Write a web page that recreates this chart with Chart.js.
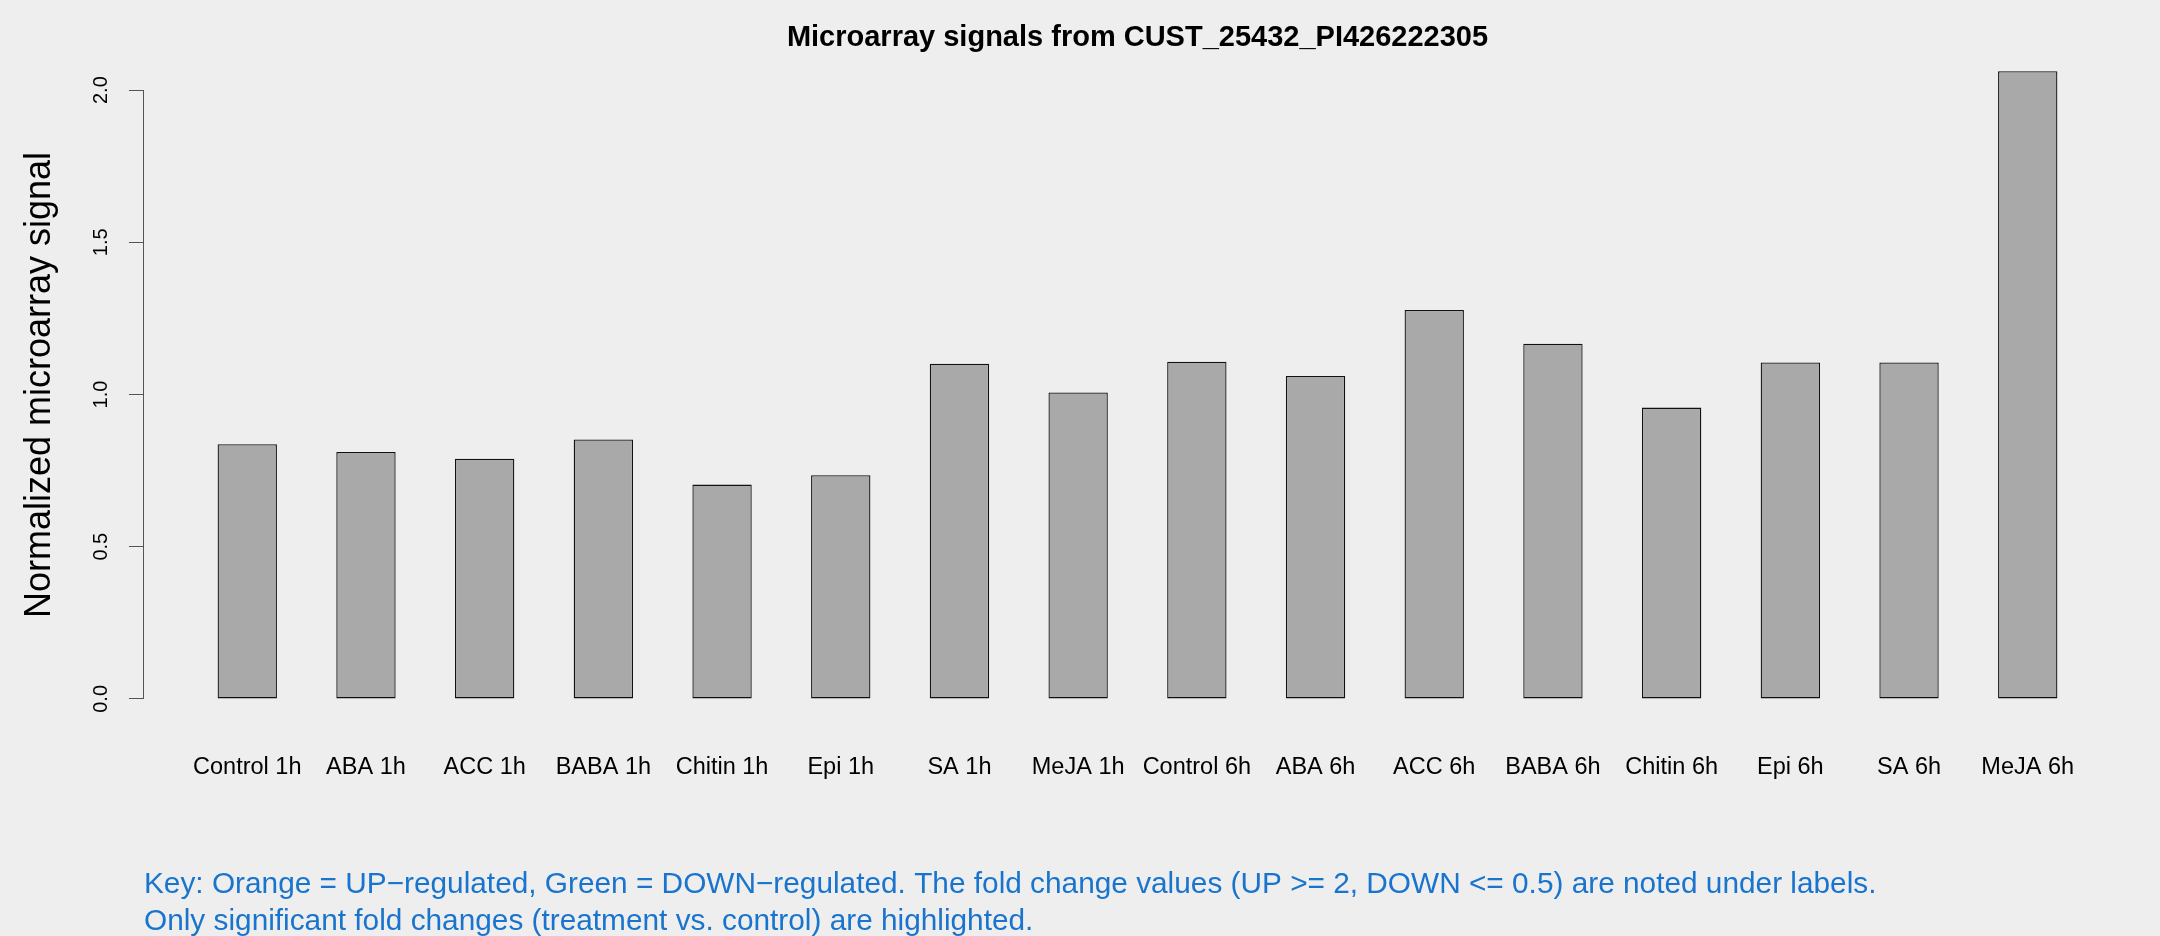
<!DOCTYPE html>
<html><head><meta charset="utf-8">
<script src="https://cdn.jsdelivr.net/npm/chart.js@4/dist/chart.umd.min.js"></script>
<style>html,body{margin:0;padding:0;background:#EEEEEE;} canvas{display:block;}</style>
</head><body>
<canvas id="c" width="2160" height="936"></canvas>
<script>
const categories = ["Control 1h","ABA 1h","ACC 1h","BABA 1h","Chitin 1h","Epi 1h","SA 1h","MeJA 1h","Control 6h","ABA 6h","ACC 6h","BABA 6h","Chitin 6h","Epi 6h","SA 6h","MeJA 6h"];
const signal = [0.837, 0.811, 0.789, 0.852, 0.704, 0.735, 1.101, 1.007, 1.108, 1.061, 1.278, 1.167, 0.957, 1.105, 1.105, 2.062];
const yTicks = [0, 0.5, 1.0, 1.5, 2.0];
const chartTitle = "Microarray signals from CUST_25432_PI426222305";
const yTitle = "Normalized microarray signal";
const keyLines = [
  "Key: Orange = UP\u2212regulated, Green = DOWN\u2212regulated. The fold change values (UP >= 2, DOWN <= 0.5) are noted under labels.",
  "Only significant fold changes (treatment vs. control) are highlighted."
];

const FONT = '"Liberation Sans", Arial, Helvetica, sans-serif';

const extras = {
  id: 'extras',
  afterDraw(chart) {
    const ctx = chart.ctx, ca = chart.chartArea, y = chart.scales.y;
    ctx.save();
    // y axis line from first to last tick (R style)
    ctx.strokeStyle = '#555';
    ctx.lineWidth = 1;
    ctx.beginPath();
    const ax = Math.round(ca.left) - 0.5;
    ctx.moveTo(ax, y.getPixelForValue(yTicks[0]));
    ctx.lineTo(ax, y.getPixelForValue(yTicks[yTicks.length - 1]));
    ctx.stroke();
    // title
    ctx.fillStyle = '#000';
    ctx.font = 'bold 29px ' + FONT;
    ctx.textAlign = 'center';
    ctx.textBaseline = 'alphabetic';
    ctx.fillText(chartTitle, (ca.left + ca.right) / 2, 46);
    // key
    ctx.fillStyle = '#1874CD';
    ctx.font = '29.8px ' + FONT;
    ctx.textAlign = 'left';
    ctx.fillText(keyLines[0], ca.left, 893);
    ctx.fillText(keyLines[1], ca.left, 930);
    ctx.restore();
  }
};

new Chart(document.getElementById('c'), {
  type: 'bar',
  data: {
    datasets: [{
      data: categories.map((c, i) => ({x: 1.5 + 2 * i, y: signal[i]})),
      backgroundColor: '#A9A9A9',
      borderColor: '#111',
      borderWidth: 1.3,
      borderSkipped: false,
      categoryPercentage: 1,
      barPercentage: 0.5
    }]
  },
  options: {
    responsive: false,
    devicePixelRatio: 1,
    animation: false,
    layout: {padding: {left: 0, top: 46, right: 29, bottom: 112}},
    plugins: {legend: {display: false}, tooltip: {enabled: false}, title: {display: false}},
    scales: {
      x: {
        type: 'linear',
        offset: false,
        min: -0.24,
        max: 33.24,
        grid: {display: false, drawTicks: false},
        border: {display: false},
        afterBuildTicks: (s) => { s.ticks = categories.map((c, i) => ({value: 1.5 + 2 * i})); },
        afterFit: (s) => { s.height = 100; },
        ticks: {
          autoSkip: false, maxRotation: 0, minRotation: 0, padding: 29,
          color: '#000', font: {family: FONT, size: 23.5},
          callback: (v, i) => categories[i]
        }
      },
      y: {
        type: 'linear',
        min: -0.0825,
        max: 2.145,
        afterBuildTicks: (s) => { s.ticks = yTicks.map(v => ({value: v})); },
        afterFit: (s) => { s.width = 144; },
        grid: {display: true, drawOnChartArea: false, drawTicks: true, tickLength: 15, color: '#555', lineWidth: 1},
        border: {display: false},
        ticks: {
          minRotation: 90, maxRotation: 90, crossAlign: 'center', padding: 14,
          color: '#000', font: {family: FONT, size: 20},
          callback: (v) => v.toFixed(1)
        },
        title: {display: true, text: yTitle, color: '#000', font: {family: FONT, size: 36}, padding: {top: 18, bottom: 0}}
      }
    }
  },
  plugins: [extras]
});
</script>
</body></html>
